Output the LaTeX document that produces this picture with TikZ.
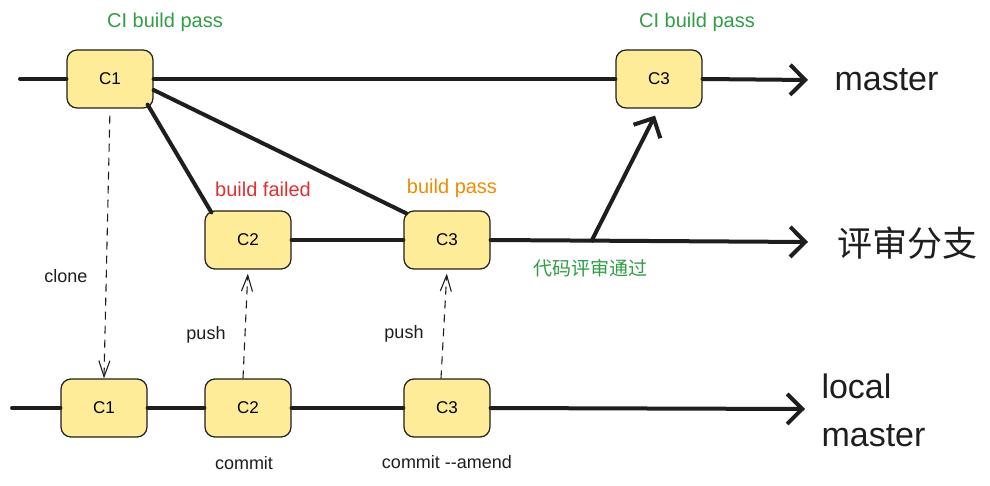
\documentclass[tikz,border=0pt]{standalone}
\usepackage{fontspec}
\setmainfont{Liberation Sans}
\newfontfamily\cjkfont{Noto Sans CJK SC}
\usepackage{xcolor}
\usetikzlibrary{arrows.meta}
\usetikzlibrary{positioning}

\definecolor{ink}{HTML}{1E1E1E}
\definecolor{notefill}{HTML}{FFEC99}
\definecolor{passgreen}{HTML}{2F9E44}
\definecolor{failred}{HTML}{E03131}
\definecolor{passorange}{HTML}{F08C00}

\tikzset{
  commit/.style={rectangle, rounded corners=10pt, draw=ink, fill=notefill,
    line width=1.2pt, minimum width=86pt, minimum height=58pt,
    font=\fontsize{17}{19}\selectfont},
  branch/.style={line width=4pt, draw=ink, line cap=round},
  branchto/.style={branch, -{Straight Barb[length=15pt,width=30pt]}},
  dashto/.style={draw=ink, line width=1.1pt, dash pattern=on 8pt off 6pt,
    -{Straight Barb[length=16pt,width=11pt]}},
  tag/.style={font=\fontsize{20}{22}\selectfont},
  small/.style={font=\fontsize{18}{20}\selectfont, text=ink},
  refname/.style={font=\fontsize{34}{48}\selectfont, text=ink, anchor=west},
}

\begin{document}
\begin{tikzpicture}[x=1pt, y=-1pt]
\useasboundingbox (0,0) rectangle (990,486);

% remote master
\coordinate (mstart) at (20,79);
\coordinate (mtip) at (808,80);
\node [commit] (C1m) at (110,79) {C1};
\node [commit] (C3m) at (659,79) {C3};
\draw [branch] (mstart) -- (C1m.west);
\draw [branch] (C1m) -- (C3m);
\draw [branchto] (C3m.east) -- (mtip);
\node [refname] (master) at (831,80) {master};
\node [tag, text=passgreen] (ci1) at (165,22) {CI build pass};
\node [tag, text=passgreen] (ci3) at (697,22) {CI build pass};

% review branch
\coordinate (rtip) at (808,242);
\coordinate (merge) at (591,242);
\node [commit] (C2r) at (248,240) {C2};
\node [commit] (C3r) at (447,240) {C3};
\draw [branch] (C1m.south east) ++(-6,-4) -- ([shift={(7,2)}]C2r.north west);
\draw [branch] ([yshift=-11]C1m.east) -- ([shift={(3,3)}]C3r.north west);
\draw [branch] (C2r) -- (C3r);
\draw [branchto] (C3r.east) -- (rtip);
\draw [branchto, line cap=butt] (merge) -- ([shift={(-4,7)}]C3m.south);
\node [refname, font=\cjkfont\fontsize{35}{38}\selectfont] (review) at (834,243) {评审分支};
\node [tag, text=failred] (failed) at (263,189) {build failed};
\node [tag, text=passorange] (passed) at (452,188) {build pass};
\node [font=\cjkfont\fontsize{19}{21}\selectfont, text=passgreen] (approve) at (590,268) {代码评审通过};

% local master
\coordinate (lstart) at (12,408);
\coordinate (ltip) at (805,409);
\node [commit] (C1l) at (104,408) {C1};
\node [commit] (C2l) at (248,408) {C2};
\node [commit] (C3l) at (447,408) {C3};
\draw [branch] (lstart) -- (C1l);
\draw [branch] (C1l) -- (C2l);
\draw [branch] (C2l) -- (C3l);
\draw [branchto] (C3l.east) -- (ltip);
\node [refname, align=left] (local) at (818,410) {local\\master};

% clone and push
\draw [dashto, shorten <=7pt] (C1m.south) -- (C1l.north);
\draw [dashto, shorten >=4pt] ([xshift=-5]C2l.north) -- (C2r.south);
\draw [dashto, shorten >=4pt] ([xshift=-6]C3l.north) -- (C3r.south);
\node [small] (clone) at (66,276) {clone};
\node [small] (push2) at (206,335) {push};
\node [small] (push3) at (404,334) {push};
\node [small] (commit2) at (244,463) {commit};
\node [small] (commit3) at (447,462) {commit {-}{-}amend};
\end{tikzpicture}
\end{document}
